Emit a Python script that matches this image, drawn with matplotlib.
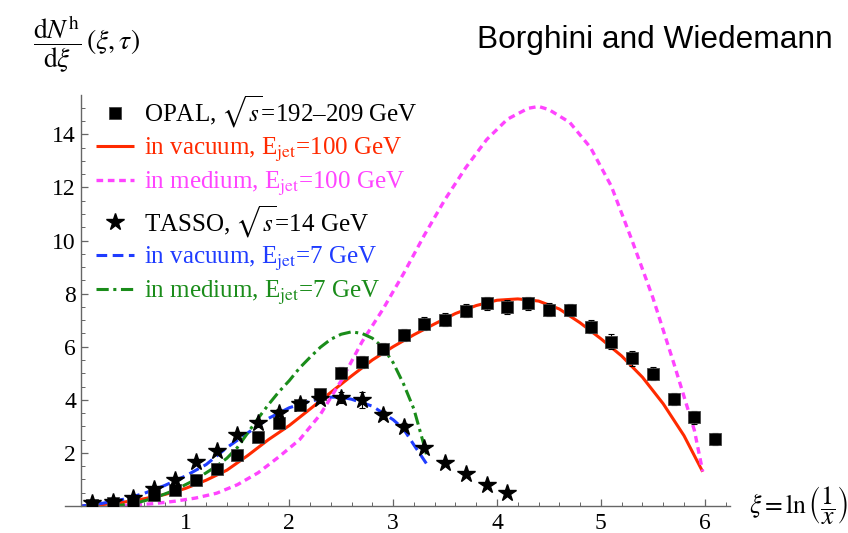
import numpy as np
import matplotlib
matplotlib.use("Agg")
import matplotlib.pyplot as plt
from matplotlib.ticker import MultipleLocator

plt.rcParams['font.family'] = ['Liberation Serif', 'DejaVu Serif']
plt.rcParams['mathtext.fontset'] = 'stix'

# OPAL data, sqrt(s) = 192-209 GeV
opal_x = [0.1, 0.3, 0.5, 0.7, 0.9, 1.1, 1.3, 1.5, 1.7, 1.9, 2.1, 2.3, 2.5, 2.7, 2.9, 3.1,
          3.3, 3.5, 3.7, 3.9, 4.1, 4.3, 4.5, 4.7, 4.9, 5.1, 5.3, 5.5, 5.7, 5.9, 6.1]
opal_y = [0.05, 0.1, 0.2, 0.4, 0.6, 0.98, 1.4, 1.93, 2.6, 3.12, 3.8, 4.2, 5.02, 5.42, 5.91, 6.44,
          6.86, 7.02, 7.35, 7.63, 7.5, 7.64, 7.39, 7.39, 6.75, 6.19, 5.56, 4.98, 4.03, 3.34, 2.51]
opal_err = [0.03, 0.03, 0.05, 0.06, 0.08, 0.1, 0.12, 0.12, 0.15, 0.2, 0.2, 0.2, 0.2, 0.22, 0.22, 0.24,
            0.24, 0.25, 0.25, 0.25, 0.25, 0.25, 0.24, 0.22, 0.24, 0.27, 0.27, 0.24, 0.24, 0.25, 0.23]

# TASSO data, sqrt(s) = 14 GeV
tasso_x = [0.1, 0.3, 0.5, 0.7, 0.9, 1.1, 1.3, 1.5, 1.7, 1.9, 2.1, 2.3, 2.5, 2.7, 2.9, 3.1,
           3.3, 3.5, 3.7, 3.9, 4.1]
tasso_y = [0.1, 0.16, 0.31, 0.63, 0.98, 1.65, 2.07, 2.68, 3.11, 3.5, 3.83, 4.03, 4.08, 3.98, 3.43, 2.99,
           2.2, 1.63, 1.21, 0.79, 0.5]
tasso_err = [0.02, 0.03, 0.04, 0.06, 0.08, 0.1, 0.1, 0.12, 0.12, 0.15, 0.15, 0.15, 0.2, 0.3, 0.15, 0.12,
             0.1, 0.08, 0.06, 0.05, 0.04]

# in vacuum, E_jet = 100 GeV
vac100_x = [0.0, 0.2, 0.4, 0.6, 0.8, 1.0, 1.2, 1.4, 1.6, 1.8, 2.0, 2.2, 2.4, 2.6, 2.8, 3.0,
            3.2, 3.4, 3.6, 3.8, 4.0, 4.2, 4.4, 4.6, 4.8, 5.0, 5.2, 5.4, 5.6, 5.8, 5.98]
vac100_y = [0.0, 0.05, 0.14, 0.27, 0.43, 0.66, 0.97, 1.35, 1.9, 2.5, 3.03, 3.65, 4.28, 4.9, 5.5, 6.0,
            6.45, 6.86, 7.25, 7.55, 7.75, 7.8, 7.72, 7.42, 6.9, 6.3, 5.65, 4.85, 3.85, 2.65, 1.29]

# in medium, E_jet = 100 GeV
med100_x = [0.3, 0.5, 0.7, 0.9, 1.1, 1.3, 1.5, 1.7, 1.9, 2.1, 2.3, 2.5, 2.7, 2.9, 3.1, 3.3,
            3.5, 3.7, 3.9, 4.1, 4.3, 4.4, 4.5, 4.7, 4.9, 5.1, 5.3, 5.5, 5.7, 5.9, 5.98]
med100_y = [0.0, 0.03, 0.09, 0.18, 0.3, 0.48, 0.8, 1.25, 1.85, 2.5, 3.45, 4.72, 6.18, 7.4, 8.75, 10.2,
            11.55, 12.75, 13.8, 14.57, 14.98, 15.05, 14.93, 14.45, 13.5, 12.05, 10.0, 7.85, 5.4, 2.85, 1.3]

# in vacuum, E_jet = 7 GeV
vac7_x = [0.0, 0.2, 0.4, 0.6, 0.8, 1.0, 1.2, 1.4, 1.6, 1.8, 2.0, 2.2, 2.4, 2.5, 2.6, 2.8,
          3.0, 3.1, 3.2, 3.32]
vac7_y = [0.0, 0.1, 0.25, 0.47, 0.77, 1.13, 1.56, 2.2, 2.75, 3.3, 3.7, 3.95, 4.1, 4.1, 4.02, 3.76,
          3.25, 2.9, 2.3, 1.6]

# in medium, E_jet = 7 GeV
med7_x = [0.3, 0.5, 0.7, 0.9, 1.1, 1.3, 1.4, 1.5, 1.6, 1.7, 1.8, 1.9, 2.0, 2.1, 2.2, 2.3,
          2.4, 2.5, 2.6, 2.7, 2.8, 2.9, 3.0, 3.1, 3.2, 3.3, 3.32]
med7_y = [0.0, 0.08, 0.3, 0.6, 1.0, 1.5, 1.8, 2.2, 2.75, 3.3, 3.82, 4.3, 4.72, 5.2, 5.6, 5.98,
          6.28, 6.47, 6.56, 6.5, 6.32, 5.98, 5.4, 4.6, 3.65, 2.25, 1.95]

red = '#ff2a00'
magenta = '#ff44ff'
blue = '#1f3cff'
green = '#1a8c1a'

fig = plt.figure(figsize=(8.48, 5.33), dpi=100)
ax = fig.add_axes([0.0765, 0.0507, 0.784, 0.771])

l_vac100, = ax.plot(vac100_x, vac100_y, color=red, lw=2.2, solid_capstyle='butt',
                    label=r'in vacuum, E$_{\rm jet}$=100 GeV')
l_med100, = ax.plot(med100_x, med100_y, color=magenta, lw=2.4, dashes=(2.0, 1.4),
                    label=r'in medium, E$_{\rm jet}$=100 GeV')
l_vac7, = ax.plot(vac7_x, vac7_y, color=blue, lw=2.2, dashes=(3.5, 1.8),
                  label=r'in vacuum, E$_{\rm jet}$=7 GeV')
l_med7, = ax.plot(med7_x, med7_y, color=green, lw=2.2, dashes=(4.0, 1.5, 1.0, 1.5),
                  label=r'in medium, E$_{\rm jet}$=7 GeV')

ax.errorbar(opal_x, opal_y, yerr=opal_err, fmt='none', ecolor='black', elinewidth=0.8,
            capsize=2.5, capthick=0.8, zorder=4)
h_opal, = ax.plot(opal_x, opal_y, 's', color='black', ms=8, mec='#444444', mew=0.6, zorder=5,
                  label=r'OPAL, $\sqrt{s}$=192–209 GeV')
ax.errorbar(tasso_x, tasso_y, yerr=tasso_err, fmt='none', ecolor='black', elinewidth=0.8,
            capsize=2.5, capthick=0.8, zorder=4)
h_tasso, = ax.plot(tasso_x, tasso_y, '*', color='black', ms=13, mec='black', zorder=5,
                   label=r'TASSO, $\sqrt{s}$=14 GeV')

ax.set_xlim(-0.16, 6.24)
ax.set_ylim(0, 15.48)

ax.spines['top'].set_visible(False)
ax.spines['right'].set_visible(False)
ax.spines['left'].set_position(('data', 0))
for s in ('left', 'bottom'):
    ax.spines[s].set_color('#666666')
    ax.spines[s].set_linewidth(1.0)

ax.set_xticks([1, 2, 3, 4, 5, 6])
ax.set_yticks([2, 4, 6, 8, 10, 12, 14])
ax.xaxis.set_minor_locator(MultipleLocator(0.2))
ax.yaxis.set_minor_locator(MultipleLocator(0.5))
ax.tick_params(which='both', direction='in', color='#666666', labelsize=17)
ax.tick_params(which='major', length=5, width=0.9)
ax.tick_params(which='minor', length=3, width=0.7)
ax.tick_params(axis='x', pad=5)
ax.tick_params(axis='y', pad=4)

leg = ax.legend(handles=[h_opal, l_vac100, l_med100, h_tasso, l_vac7, l_med7],
                loc='upper left', bbox_to_anchor=(96 / 848, 1 - 94 / 533),
                bbox_transform=fig.transFigure, frameon=False, fontsize=18,
                handlelength=1.5, handletextpad=0.4, labelspacing=0.22,
                borderpad=0, borderaxespad=0, labelcolor='linecolor')

fig.text(33 / 848, 1 - 44 / 533, r'$\dfrac{\mathrm{d}N^{\mathrm{h}}}{\mathrm{d}\xi}\,(\xi,\tau)$',
         fontsize=20, ha='left', va='center')
fig.text(749 / 848, 1 - 506 / 533, r'$\xi = \ln\left(\dfrac{1}{x}\right)$',
         fontsize=18.5, ha='left', va='center')
fig.text(833 / 848, 1 - 40 / 533, 'Borghini and Wiedemann', family='Liberation Sans',
         fontsize=22.8, ha='right', va='center')

fig.savefig('out.png', dpi=100)
